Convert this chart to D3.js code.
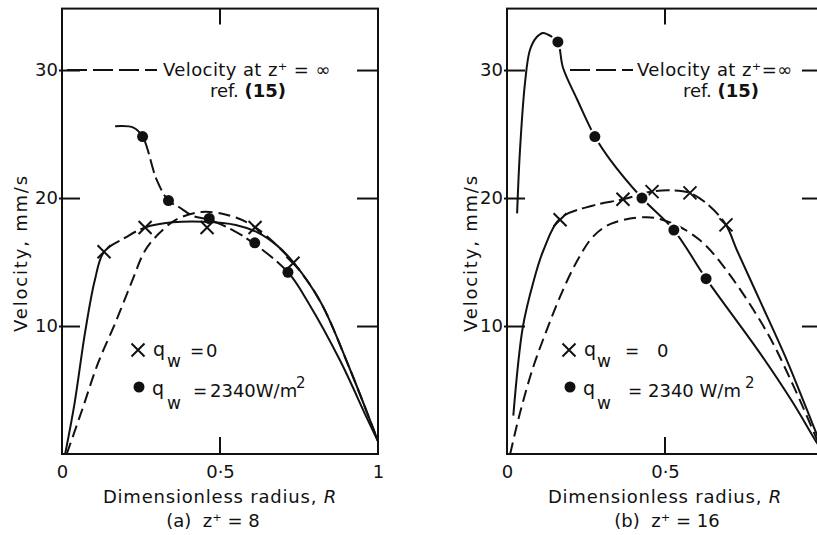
<!DOCTYPE html>
<html>
<head>
<meta charset="utf-8">
<script src="https://cdn.jsdelivr.net/npm/d3@7"></script>
<style>
  body { margin: 0; background: #fff; }
  svg { display: block; }
  text { font-family: "DejaVu Sans", sans-serif; fill: #111; }
</style>
</head>
<body>
<svg id="chart" width="817" height="535"></svg>
<script>
// ---------------- DATA ----------------
const R_TICKS = [0, 0.5, 1];
const R_MID_TICKS = [0.5];
const R_TICK_LABELS_A = ["0", "0·5", "1"];
const R_TICK_LABELS_B = ["0", "0·5", ""];   // "1" of panel (b) lies beyond the picture's edge
const V_TICKS = [10, 20, 30];
const V_TICK_LABELS = ["10", "20", "30"];

// Panel (a)  z+ = 8
const refA_R = [0.015, 0.063, 0.114, 0.168, 0.22, 0.263, 0.31, 0.36, 0.44, 0.52, 0.60, 0.68, 0.75, 0.82, 0.91, 1.0];
const refA_V = [0, 3.4, 7.1, 10.2, 13.4, 15.9, 17.3, 18.3, 18.9, 18.7, 17.9, 16.3, 14.4, 11.8, 6.7, 1.0];

const xLineA_R = [0.01, 0.04, 0.073, 0.104, 0.133, 0.2, 0.263, 0.35, 0.45, 0.55, 0.62, 0.68, 0.735, 0.82, 0.91, 1.0];
const xLineA_V = [0, 4.0, 9.5, 13.6, 15.8, 16.9, 17.7, 18.1, 18.15, 17.9, 17.3, 16.3, 14.9, 11.8, 6.7, 1.0];
const xA_R = [0.133, 0.263, 0.459, 0.611, 0.731];
const xA_V = [15.8, 17.7, 17.7, 17.7, 14.9];

const dotLineA_R = [0.168, 0.226, 0.255, 0.30, 0.337, 0.37, 0.415, 0.466, 0.54, 0.61, 0.715, 0.78, 0.88, 0.965, 1.0];
const dotLineA_V = [25.6, 25.5, 24.8, 21.4, 19.8, 19.3, 18.6, 18.3, 17.5, 16.4, 14.2, 11.8, 7.3, 2.8, 1.0];
const dotA_R = [0.255, 0.337, 0.466, 0.61, 0.715];
const dotA_V = [24.8, 19.8, 18.4, 16.5, 14.2];

// Panel (b)  z+ = 16
const refB_R = [0.01, 0.041, 0.083, 0.126, 0.168, 0.22, 0.273, 0.33, 0.443, 0.516, 0.611, 0.696, 0.823, 0.905, 0.95, 1.0];
const refB_V = [0, 3.2, 6.8, 9.7, 12.3, 15.0, 17.0, 18.0, 18.5, 18.1, 16.7, 14.3, 9.5, 5.4, 2.9, 0];

const xLineB_R = [0.02, 0.05, 0.083, 0.115, 0.168, 0.27, 0.367, 0.459, 0.52, 0.579, 0.64, 0.693, 0.728, 0.80, 0.886, 0.95, 1.0];
const xLineB_V = [3.0, 9.9, 13.4, 15.9, 18.4, 19.4, 19.9, 20.5, 20.6, 20.4, 19.4, 17.9, 15.9, 12.0, 7.3, 3.4, 0.3];
const xB_R = [0.168, 0.367, 0.459, 0.579, 0.693];
const xB_V = [18.3, 19.9, 20.5, 20.4, 17.9];

const dotLineB_R = [0.032, 0.041, 0.057, 0.073, 0.095, 0.114, 0.142, 0.161, 0.177, 0.222, 0.278, 0.326, 0.427, 0.528, 0.63, 0.80, 0.905, 0.98, 1.0];
const dotLineB_V = [18.8, 23.7, 29.0, 31.6, 32.6, 32.9, 32.6, 32.2, 30.2, 27.7, 24.8, 23.0, 20.0, 17.5, 13.7, 7.9, 4.0, 0.9, 0.2];
const dotB_R = [0.161, 0.278, 0.427, 0.528, 0.63];
const dotB_V = [32.2, 24.8, 20.0, 17.5, 13.7];

const TITLE_X = "Dimensionless radius, ";
const TITLE_X_ITALIC = "R";
const TITLE_Y = "Velocity, mm/s";

// ---------------- LAYOUT ----------------
const svg = d3.select("#chart");
const INK = "#111";
const yScale = d3.scaleLinear().domain([0, 34.8]).range([454, 8.6]);

const panels = [
  {
    left: 62, caption: "(a)  z⁺ = 8", capX: 213, titleYX: 27, rLabels: R_TICK_LABELS_A,
    ref: [refA_R, refA_V], xl: [xLineA_R, xLineA_V], xm: [xA_R, xA_V],
    dl: [dotLineA_R, dotLineA_V], dm: [dotA_R, dotA_V],
    xDash: [0.133, 0.263], dDash: [0.255, 0.715], dotDashed: true,
    refLeg: { x1: 67, x2: 157, tx: 163, text: "Velocity at z⁺ = ∞", rx: 210 },
    leg: { mx: 138, q: 153, w: 167, eq0: 197, v0: 206, eq1: 200, v1: 210, sup: 296, v1text: "2340W/m" }
  },
  {
    left: 507, caption: "(b)  z⁺ = 16", capX: 667, titleYX: 477, rLabels: R_TICK_LABELS_B,
    ref: [refB_R, refB_V], xl: [xLineB_R, xLineB_V], xm: [xB_R, xB_V],
    dl: [dotLineB_R, dotLineB_V], dm: [dotB_R, dotB_V],
    xDash: [0.168, 0.693], dDash: null, dotDashed: false,
    refLeg: { x1: 570, x2: 633, tx: 637, text: "Velocity at z⁺=∞", rx: 683 },
    leg: { mx: 569, q: 584, w: 597, eq0: 632, v0: 657, eq1: 635, v1: 648, sup: 745, v1text: "2340 W/m" }
  }
];

function lenAtX(node, px, total) {
  let lo = 0, hi = total;
  for (let i = 0; i < 40; i++) {
    const mid = (lo + hi) / 2;
    if (node.getPointAtLength(mid).x < px) lo = mid; else hi = mid;
  }
  return (lo + hi) / 2;
}
function buildDash(total, L1, L2, dash, gap) {
  const arr = [L1];
  let p = L1;
  while (p + gap + dash <= L2 + 2) { arr.push(gap, dash); p += gap + dash; }
  arr.push(gap, total + 10);
  return arr.join(",");
}
function drawCurve(g, x, R, V, opts) {
  const pts = R.map((r, i) => [x(r), yScale(V[i])]);
  const line = d3.line().curve(d3.curveCatmullRom.alpha(0.5));
  const p = g.append("path").attr("d", line(pts))
    .attr("fill", "none").attr("stroke", INK).attr("stroke-width", 2);
  if (opts.dash) p.attr("stroke-dasharray", opts.dash);
  if (opts.range) {
    const node = p.node();
    const total = node.getTotalLength();
    const L1 = lenAtX(node, x(opts.range[0]), total);
    const L2 = lenAtX(node, x(opts.range[1]), total);
    p.attr("stroke-dasharray", buildDash(total, L1, L2, 14, 5));
  }
  return p;
}
function drawX(g, cx, cy) {
  g.append("path")
    .attr("d", `M${cx - 6.5},${cy - 6.5}L${cx + 6.5},${cy + 6.5}M${cx - 6.5},${cy + 6.5}L${cx + 6.5},${cy - 6.5}`)
    .attr("stroke", INK).attr("stroke-width", 2).attr("fill", "none");
}
function drawDot(g, cx, cy, halo) {
  if (halo) g.append("circle").attr("cx", cx).attr("cy", cy).attr("r", 7.5).attr("fill", "#fff");
  g.append("circle").attr("cx", cx).attr("cy", cy).attr("r", 5.5).attr("fill", INK);
}

panels.forEach(P => {
  const g = svg.append("g");
  const xScale = d3.scaleLinear().domain([0, 1]).range([P.left, P.left + 316]);
  const yTop = yScale(34.8), yBot = yScale(0);

  // frame
  g.append("rect").attr("x", P.left).attr("y", yTop).attr("width", 316).attr("height", yBot - yTop)
    .attr("fill", "none").attr("stroke", INK).attr("stroke-width", 2);

  const styleAxis = a => {
    a.select(".domain").remove();
    a.selectAll(".tick line").attr("stroke", INK).attr("stroke-width", 2);
    a.selectAll("text").attr("font-size", 18).attr("font-family", "DejaVu Sans").attr("fill", INK);
  };
  // left axis
  g.append("g").attr("transform", `translate(${P.left},0)`)
    .call(d3.axisLeft(yScale).tickValues(V_TICKS).tickSizeInner(-18).tickSizeOuter(0).tickPadding(4)
      .tickFormat((d, i) => V_TICK_LABELS[i]))
    .call(styleAxis)
    .call(a => a.selectAll(".tick line").attr("x1", -3));
  // right axis
  g.append("g").attr("transform", `translate(${P.left + 316},0)`)
    .call(d3.axisRight(yScale).tickValues(V_TICKS).tickSizeInner(-21).tickSizeOuter(0).tickFormat(() => ""))
    .call(styleAxis);
  // bottom axis labels
  g.append("g").attr("transform", `translate(0,${yBot})`)
    .call(d3.axisBottom(xScale).tickValues(R_TICKS).tickSize(0).tickPadding(11)
      .tickFormat((d, i) => P.rLabels[i]))
    .call(styleAxis);
  // inward mid ticks on top and bottom edges
  R_MID_TICKS.forEach(r => {
    g.append("line").attr("x1", xScale(r)).attr("x2", xScale(r)).attr("y1", yTop).attr("y2", yTop + 16)
      .attr("stroke", INK).attr("stroke-width", 2);
    g.append("line").attr("x1", xScale(r)).attr("x2", xScale(r)).attr("y1", yBot).attr("y2", yBot - 17)
      .attr("stroke", INK).attr("stroke-width", 2);
  });

  // axis titles
  const xt = g.append("text").attr("x", P.left + 158).attr("y", 503).attr("text-anchor", "middle")
    .attr("font-size", 18).attr("letter-spacing", 0.8);
  xt.append("tspan").text(TITLE_X);
  xt.append("tspan").attr("font-style", "italic").text(TITLE_X_ITALIC);
  g.append("text").attr("transform", `translate(${P.titleYX},253) rotate(-90)`).attr("text-anchor", "middle")
    .attr("font-size", 18).attr("letter-spacing", 1.8).text(TITLE_Y);
  g.append("text").attr("x", P.capX).attr("y", 527).attr("text-anchor", "middle")
    .attr("font-size", 18).style("white-space", "pre").text(P.caption);

  // curves
  drawCurve(g, xScale, P.ref[0], P.ref[1], { dash: "12,6" });
  drawCurve(g, xScale, P.xl[0], P.xl[1], { range: P.xDash });
  if (P.dotDashed) drawCurve(g, xScale, P.dl[0], P.dl[1], { range: P.dDash });
  else drawCurve(g, xScale, P.dl[0], P.dl[1], {});

  // markers
  P.xm[0].forEach((r, i) => drawX(g, xScale(r), yScale(P.xm[1][i])));
  P.dm[0].forEach((r, i) => drawDot(g, xScale(r), yScale(P.dm[1][i]), !P.dotDashed));

  // reference legend
  const L = P.refLeg, y30 = yScale(30);
  g.append("line").attr("x1", L.x1).attr("x2", L.x2).attr("y1", y30).attr("y2", y30)
    .attr("stroke", INK).attr("stroke-width", 2).attr("stroke-dasharray", "20,6");
  g.append("text").attr("x", L.tx).attr("y", 76).attr("font-size", 18).attr("letter-spacing", 0.4).text(L.text);
  const rt = g.append("text").attr("x", L.rx).attr("y", 97).attr("font-size", 18);
  rt.append("tspan").text("ref. ");
  rt.append("tspan").attr("font-weight", "bold").text("(15)");

  // series legend
  const G = P.leg;
  drawX(g, G.mx, 350);
  g.append("text").attr("x", G.q).attr("y", 356).attr("font-size", 19).text("q");
  g.append("text").attr("x", G.w).attr("y", 367).attr("font-size", 17).text("w");
  g.append("text").attr("x", G.eq0).attr("y", 357).attr("font-size", 17).attr("text-anchor", "middle").text("=");
  g.append("text").attr("x", G.v0).attr("y", 357).attr("font-size", 18).text("0");

  drawDot(g, G.mx + 1, 387, false);
  g.append("text").attr("x", G.q - 1).attr("y", 395).attr("font-size", 19).text("q");
  g.append("text").attr("x", G.w).attr("y", 409).attr("font-size", 17).text("w");
  g.append("text").attr("x", G.eq1).attr("y", 397).attr("font-size", 17).attr("text-anchor", "middle").text("=");
  g.append("text").attr("x", G.v1).attr("y", 397).attr("font-size", 18).text(G.v1text);
  g.append("text").attr("x", G.sup).attr("y", 388).attr("font-size", 15).text("2");
});
</script>
</body>
</html>
